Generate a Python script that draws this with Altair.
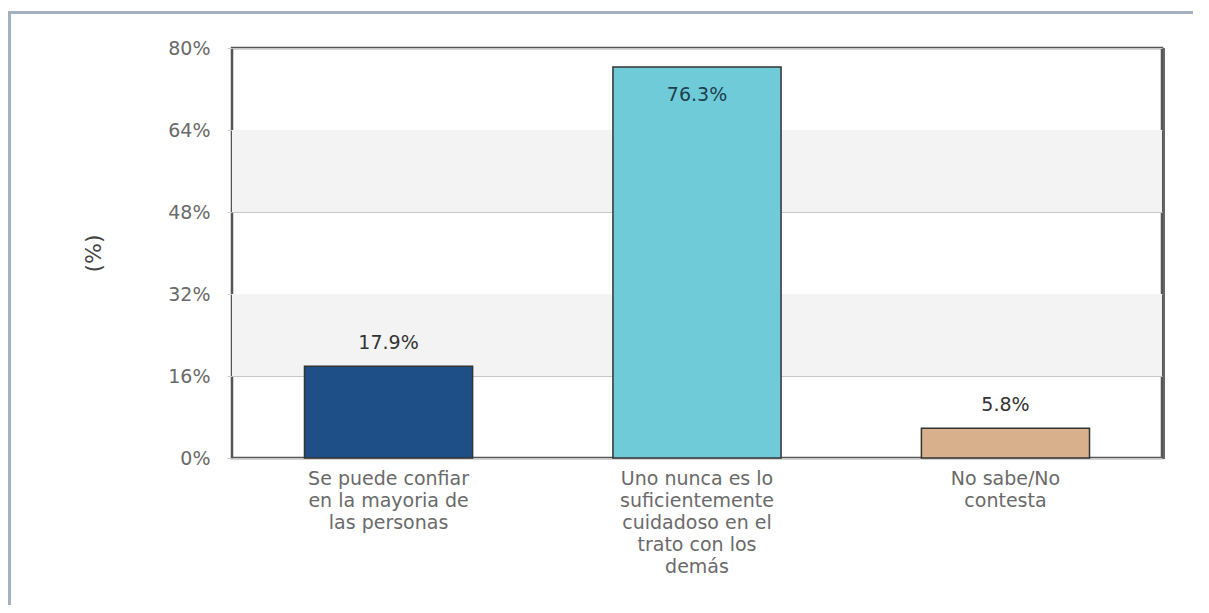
import altair as alt
import pandas as pd

categories = [
    "Se puede confiar|en la mayoria de|las personas",
    "Uno nunca es lo|suficientemente|cuidadoso en el|trato con los|demás",
    "No sabe/No|contesta",
]
values = [17.9, 76.3, 5.8]
labels = ["17.9%", "76.3%", "5.8%"]
colors = ["#1f4f87", "#6fcbd8", "#d8b08c"]
y_ticks = [0, 16, 32, 48, 64, 80]
band_start = [16, 48]
band_end = [32, 64]

df = pd.DataFrame({"cat": categories, "value": values, "label": labels})
bands = pd.DataFrame({"y0": band_start, "y1": band_end})

FONT = "DejaVu Sans"

x_enc = alt.X(
    "cat:N",
    sort=categories,
    scale=alt.Scale(paddingInner=0.455, paddingOuter=0.235),
    axis=alt.Axis(
        title=None,
        labelAngle=0,
        labelExpr="split(datum.label, '|')",
        labelFont=FONT,
        labelFontSize=19,
        labelLineHeight=22,
        labelColor="#6a6a6a",
        labelBaseline="top",
        labelPadding=11,
        ticks=False,
        domain=False,
        labelLimit=400,
    ),
)
y_scale = alt.Scale(domain=[0, 80], nice=False)

band_layer = alt.Chart(bands).mark_rect(color="#f3f3f3").encode(
    y=alt.Y("y0:Q", scale=y_scale),
    y2="y1:Q",
    x=alt.value(0),
    x2=alt.value(930),
)

bars = alt.Chart(df).mark_bar(stroke="#333333", strokeWidth=1.5).encode(
    x=x_enc,
    y=alt.Y(
        "value:Q",
        scale=y_scale,
        axis=alt.Axis(
            values=y_ticks,
            labelExpr="datum.value + '%'",
            title="(%)",
            titleFont=FONT,
            titleFontSize=22,
            titleFontWeight="normal",
            titleColor="#444444",
            titleX=-139,
            titleY=205,
            titleAngle=270,
            titleBaseline="middle",
            titleAlign="center",
            labelFont=FONT,
            labelFontSize=19,
            labelColor="#6a6a6a",
            labelPadding=17,
            tickSize=5,
            tickColor="#cccccc",
            domain=False,
            grid=True,
            gridColor="#c8c8c8",
            gridWidth=1,
        ),
    ),
    color=alt.Color("cat:N", sort=categories, scale=alt.Scale(domain=categories, range=colors), legend=None),
)

outside = alt.Chart(df).transform_filter("datum.value < 70").mark_text(
    font=FONT, fontSize=19, color="#333333", baseline="middle", dy=-23
).encode(x=alt.X("cat:N", sort=categories), y=alt.Y("value:Q", scale=y_scale), text="label:N")

inside = alt.Chart(df).transform_filter("datum.value >= 70").mark_text(
    font=FONT, fontSize=19, color="#1f3f4f", baseline="middle", dy=28
).encode(x=alt.X("cat:N", sort=categories), y=alt.Y("value:Q", scale=y_scale), text="label:N")

frame_src = pd.DataFrame({"k": [0]})
frame_left = alt.Chart(frame_src).mark_rule(color="#a3b2be", strokeWidth=3).encode(
    x=alt.value(-222.5), y=alt.value(-35.5), y2=alt.value(557)
)
frame_top = alt.Chart(frame_src).mark_rule(color="#a3b2be", strokeWidth=3).encode(
    x=alt.value(-224), x2=alt.value(961), y=alt.value(-35.5)
)
right_shadow = alt.Chart(frame_src).mark_rule(color="#666666", strokeWidth=2).encode(
    x=alt.value(932), y=alt.value(0), y2=alt.value(411)
)

chart = alt.layer(band_layer, bars, outside, inside, frame_left, frame_top, right_shadow).properties(
    width=930,
    height=410,
    autosize=alt.AutoSizeParams(type="none"),
    padding={"left": 224, "top": 40, "right": 39, "bottom": 149},
    background="white",
).configure_view(stroke="#555555", strokeWidth=2.5)

chart.save("out.html", embed_options={"renderer": "svg", "actions": False})
